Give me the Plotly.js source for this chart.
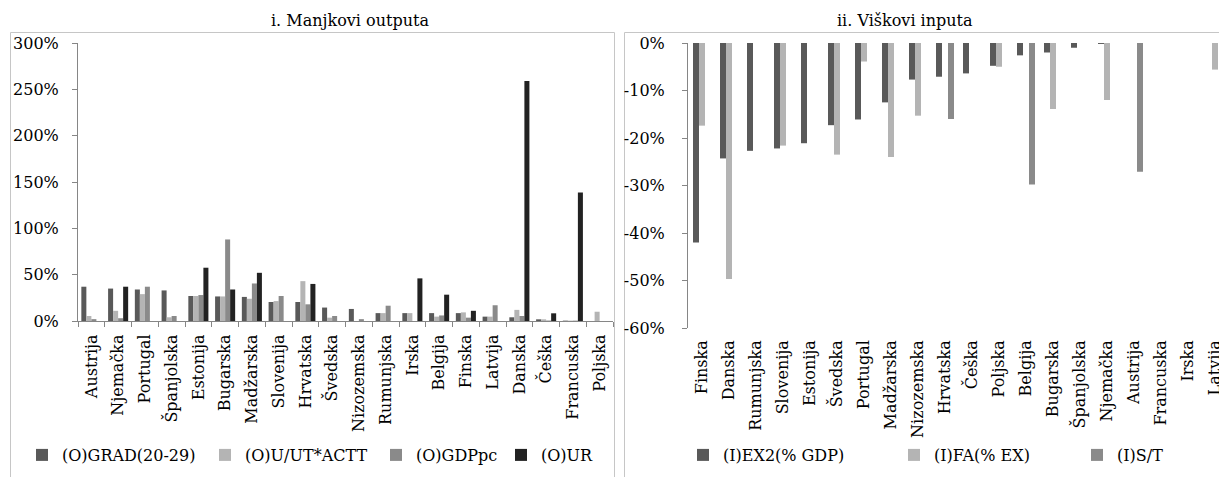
<!DOCTYPE html>
<html>
<head>
<meta charset="utf-8">
<script src="https://cdn.plot.ly/plotly-3.0.1.min.js"></script>
<style>
html,body{margin:0;padding:0;overflow:hidden;background:#fff;}
#chart{width:1240px;height:477px;}
</style>
</head>
<body>
<div id="chart"></div>
<script>
// ---- data (values in %) ----
var leftCategories = ["Austrija","Njemačka","Portugal","Španjolska","Estonija","Bugarska","Madžarska","Slovenija","Hrvatska","Švedska","Nizozemska","Rumunjska","Irska","Belgija","Finska","Latvija","Danska","Češka","Francuska","Poljska"];
var gradValues  = [37, 35, 34, 33, 27, 26.5, 26, 20.5, 20.5, 14.5, 13, 8.5, 8.5, 8.5, 8.5, 4.7, 4, 1.8, 0.4, 0];
var uutValues   = [5.4, 11, 29, 4, 27, 26.5, 24, 21.5, 43, 3.6, 0, 8.5, 8.5, 4.7, 9.3, 4.7, 12, 1.8, 0.4, 10];
var gdppcValues = [2, 3, 37, 5.4, 28, 88, 40.5, 27, 18, 5.4, 2, 16.5, 0, 6, 3.6, 17, 5.4, 0.5, 0.4, 0];
var urValues    = [0, 37, 0, 0, 57.5, 34, 52, 0, 40, 0, 0, 0, 46, 28.4, 11, 0, 259, 8.3, 138.7, 0];

var rightCategories = ["Finska","Danska","Rumunjska","Slovenija","Estonija","Švedska","Portugal","Madžarska","Nizozemska","Hrvatska","Češka","Poljska","Belgija","Bugarska","Španjolska","Njemačka","Austrija","Francuska","Irska","Latvija"];
var ex2Values = [-42, -24.3, -22.7, -22.2, -21.1, -17.3, -16.1, -12.5, -7.7, -7.1, -6.4, -4.8, -2.6, -2, -1, -0.2, 0, 0, 0, 0];
var faValues  = [-17.4, -49.7, 0, -21.6, 0, -23.5, -3.9, -24, -15.3, 0, 0, -5.0, 0, -13.9, 0, -12, 0, 0, 0, -5.6];
var stValues  = [0, 0, 0, 0, 0, 0, 0, 0, 0, -16, 0, 0, -29.8, 0, 0, 0, -27.1, 0, 0, 0];

var leftTickVals   = [0, 50, 100, 150, 200, 250, 300];
var leftTickText   = ["0%", "50%", "100%", "150%", "200%", "250%", "300%"];
var rightTickVals  = [0, -10, -20, -30, -40, -50, -60];
var rightTickText  = ["0%", "-10%", "-20%", "-30%", "-40%", "-50%", "-60%"];

var leftNames  = ["(O)GRAD(20-29)", "(O)U/UT*ACTT", "(O)GDPpc", "(O)UR"];
var rightNames = ["(I)EX2(% GDP)", "(I)FA(% EX)", "(I)S/T"];
var leftTitle  = "i. Manjkovi outputa";
var rightTitle = "ii. Viškovi inputa";

// ---- styling ----
var W = 1240, H = 477;
var FONT = "DejaVu Serif, serif";
var AXC = "#868686";
function px(x){ return x / W; }
function py(y){ return 1 - y / H; }

var leftColors  = ["#595959", "#b4b4b4", "#8a8a8a", "#222222"];
var rightColors = ["#595959", "#b4b4b4", "#8a8a8a"];
var leftSeries  = [gradValues, uutValues, gdppcValues, urValues];
var rightSeries = [ex2Values, faValues, stValues];

var leftLegendX  = [22, 205, 376, 501];
var rightLegendX = [683, 894, 1077];
var legendY = 455;

var traces = [];
var legends = {};
var li = 1;
function legendKey(i){ return i === 1 ? "legend" : "legend" + i; }

var lw = 0.75 / 4;
leftSeries.forEach(function(vals, k){
  var key = legendKey(li);
  traces.push({
    type: "bar", x: leftCategories, y: vals, name: leftNames[k],
    xaxis: "x", yaxis: "y",
    marker: {color: leftColors[k], line: {width: 0}},
    width: lw, offset: -0.375 + k * lw,
    legend: key, showlegend: true, hoverinfo: "x+y+name"
  });
  legends[key] = {x: px(leftLegendX[k]), y: py(legendY), xanchor: "left", yanchor: "middle",
    orientation: "h", bgcolor: "rgba(0,0,0,0)", borderwidth: 0,
    font: {family: FONT, size: 16, color: "#000"}};
  li++;
});
var rw = 2 / 9;
rightSeries.forEach(function(vals, k){
  var key = legendKey(li);
  traces.push({
    type: "bar", x: rightCategories, y: vals, name: rightNames[k],
    xaxis: "x2", yaxis: "y2",
    marker: {color: rightColors[k], line: {width: 0}},
    width: rw, offset: -0.315 + k * rw,
    legend: key, showlegend: true, hoverinfo: "x+y+name"
  });
  legends[key] = {x: px(rightLegendX[k]), y: py(legendY), xanchor: "left", yanchor: "middle",
    orientation: "h", bgcolor: "rgba(0,0,0,0)", borderwidth: 0,
    font: {family: FONT, size: 16, color: "#000"}};
  li++;
});

var tickFont = {family: FONT, size: 16, color: "#000"};

var layout = {
  width: W, height: H,
  margin: {l: 0, r: 0, t: 0, b: 0, pad: 0},
  paper_bgcolor: "#fff", plot_bgcolor: "rgba(0,0,0,0)",
  font: {family: FONT, size: 16, color: "#000"},
  barmode: "group",
  xaxis: {
    domain: [px(78), px(613)], anchor: "y", type: "category",
    categoryorder: "array", categoryarray: leftCategories,
    range: [-0.5, 19.5], tickson: "boundaries",
    showline: true, linecolor: AXC, linewidth: 1,
    ticks: "outside", ticklen: 5, tickcolor: AXC, ticklabelstandoff: 6,
    tickangle: -90, tickfont: tickFont, showgrid: false, zeroline: false,
    fixedrange: true
  },
  yaxis: {
    domain: [py(321), py(43)], anchor: "x",
    range: [0, 300], tickmode: "array", tickvals: leftTickVals, ticktext: leftTickText,
    showline: true, linecolor: AXC, linewidth: 1,
    ticks: "outside", ticklen: 5, tickcolor: AXC, ticklabelstandoff: 10,
    tickfont: tickFont, showgrid: false, zeroline: false, fixedrange: true
  },
  xaxis2: {
    domain: [px(688), px(1228)], anchor: "y2", type: "category",
    categoryorder: "array", categoryarray: rightCategories,
    range: [-0.5, 19.5],
    showline: false, ticks: "", tickangle: -90, tickfont: tickFont, ticklabelstandoff: 8,
    showgrid: false, zeroline: false, fixedrange: true
  },
  xaxis3: {
    overlaying: "x2", anchor: "y2", side: "top", type: "linear",
    range: [-0.5, 19.5], tick0: -0.5, dtick: 1,
    showline: true, linecolor: AXC, linewidth: 1,
    ticks: "inside", ticklen: 4, tickcolor: AXC,
    showticklabels: false, showgrid: false, zeroline: false, fixedrange: true
  },
  yaxis2: {
    domain: [py(328), py(43)], anchor: "x2",
    range: [-60, 0], tickmode: "array", tickvals: rightTickVals, ticktext: rightTickText,
    showline: true, linecolor: AXC, linewidth: 1,
    ticks: "outside", ticklen: 5, tickcolor: AXC, ticklabelstandoff: 14,
    tickfont: tickFont, showgrid: false, zeroline: false, fixedrange: true
  },
  shapes: [
    {type: "rect", xref: "paper", yref: "paper", x0: px(10.5), x1: px(614.5), y0: -0.2, y1: py(32.5),
     line: {color: "#c6c6c6", width: 1}, fillcolor: "rgba(0,0,0,0)", layer: "below"},
    {type: "rect", xref: "paper", yref: "paper", x0: px(624.5), x1: 1.2, y0: -0.2, y1: py(32.5),
     line: {color: "#c6c6c6", width: 1}, fillcolor: "rgba(0,0,0,0)", layer: "below"}
  ],
  annotations: [
    {text: leftTitle, xref: "paper", yref: "paper", x: px(350), y: py(21), xanchor: "center", yanchor: "middle",
     showarrow: false, font: {family: FONT, size: 16, color: "#000"}},
    {text: rightTitle, xref: "paper", yref: "paper", x: px(905), y: py(21), xanchor: "center", yanchor: "middle",
     showarrow: false, font: {family: FONT, size: 16, color: "#000"}}
  ]
};
Object.keys(legends).forEach(function(k){ layout[k] = legends[k]; });

Plotly.newPlot("chart", traces, layout, {displayModeBar: false, staticPlot: true, responsive: false});
</script>
</body>
</html>
